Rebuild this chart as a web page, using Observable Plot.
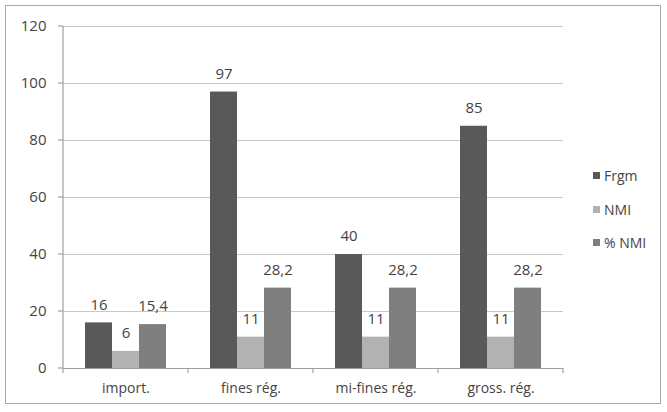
<!DOCTYPE html>
<html>
<head>
<meta charset="utf-8">
<script src="https://cdn.jsdelivr.net/npm/d3@7"></script>
<script src="https://cdn.jsdelivr.net/npm/@observablehq/plot@0.6"></script>
<style>
  html, body { margin: 0; padding: 0; background: #fff; }
  #wrap { position: relative; width: 667px; height: 412px; font-family: "Open Sans", Lato, sans-serif; }
  #border { position: absolute; left: 5px; top: 5px; width: 656px; height: 399px; border: 1.5px solid #a8a8a8; box-sizing: border-box; pointer-events: none; }
  #chart { position: absolute; left: 0; top: 0; }
  #legend { position: absolute; left: 593px; top: 159px; font-size: 14px; color: #444; }
  .li { display: flex; align-items: center; height: 33.5px; }
  .sw { width: 7px; height: 7px; margin-right: 4px; }
</style>
</head>
<body>
<div id="wrap">
  <div id="chart"></div>
  <div id="border"></div>
  <div id="legend"></div>
</div>
<script>
const categories = ["import.", "fines rég.", "mi-fines rég.", "gross. rég."];
const seriesNames = ["Frgm", "NMI", "% NMI"];
const frgm = [16, 97, 40, 85];
const nmi = [6, 11, 11, 11];
const pctNmi = [15.4, 28.2, 28.2, 28.2];
const yTicks = [0, 20, 40, 60, 80, 100, 120];
const colors = ["#595959", "#b2b2b2", "#7f7f7f"];

const seriesValues = [frgm, nmi, pctNmi];
const data = [];
categories.forEach((c, i) => {
  seriesNames.forEach((s, j) => data.push({category: c, series: s, value: seriesValues[j][i]}));
});
const fmt = v => String(v).replace(".", ",");

const plot = Plot.plot({
  width: 667,
  height: 412,
  marginLeft: 63,
  marginRight: 104,
  marginTop: 26,
  marginBottom: 44,
  style: {fontFamily: "'Open Sans', Lato, sans-serif", fontSize: "14px", color: "#444", background: "transparent"},
  fx: {domain: categories, padding: 0, label: null, tickSize: 0, tickPadding: 15, axis: "bottom"},
  x: {domain: seriesNames, paddingInner: 0, paddingOuter: 0.77, axis: null},
  y: {domain: [0, 120], ticks: yTicks, label: null, tickSize: 0, tickPadding: 17},
  color: {domain: seriesNames, range: colors},
  marks: [
    Plot.gridY(yTicks, {stroke: "#c8c8c8", strokeOpacity: 1, strokeWidth: 1.2}),
    Plot.barY(data, {fx: "category", x: "series", y: "value", fill: "series"}),
    Plot.text(data, {fx: "category", x: "series", y: "value", text: d => fmt(d.value), dy: -18, fontSize: 15, fill: "#444"}),
    Plot.ruleY([0], {stroke: "#a0a0a0", strokeWidth: 1.2})
  ]
});
document.getElementById("chart").appendChild(plot);
d3.select(plot).selectAll("[aria-label='y-axis tick label'] text, [aria-label='y-axis tick label']").style("font-size", "15px");

// axis line, y ticks and category boundary ticks from the scales
const svg = d3.select(plot);
const fxS = plot.scale("fx");
const yS = plot.scale("y");
const y = d3.scaleLinear().domain(yS.domain).range(yS.range);
const fx = d3.scaleBand().domain(fxS.domain).range(fxS.range).paddingInner(0).paddingOuter(0);
const left = fxS.range[0];
const g = svg.append("g").attr("stroke", "#a0a0a0").attr("stroke-width", 1.2);
g.append("line").attr("x1", left).attr("x2", left).attr("y1", y(120)).attr("y2", y(0) + 5);
yTicks.forEach(t => g.append("line").attr("x1", left - 5).attr("x2", left).attr("y1", y(t)).attr("y2", y(t)));
categories.forEach(c => {
  const xe = fx(c) + fx.bandwidth();
  g.append("line").attr("x1", xe).attr("x2", xe).attr("y1", y(0)).attr("y2", y(0) + 5);
});

const legend = document.getElementById("legend");
seriesNames.forEach((s, i) => {
  const row = document.createElement("div");
  row.className = "li";
  row.innerHTML = `<span class="sw" style="background:${colors[i]}"></span><span>${s}</span>`;
  legend.appendChild(row);
});
</script>
</body>
</html>
